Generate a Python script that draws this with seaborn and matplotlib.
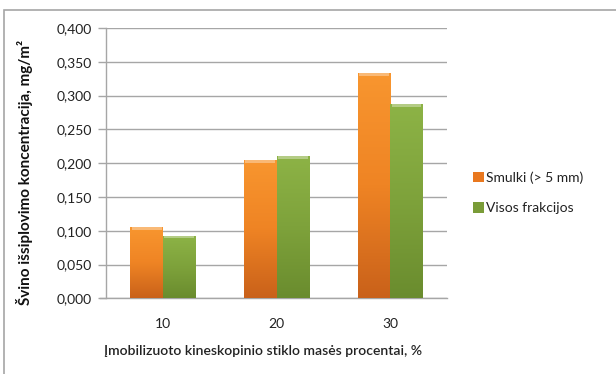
import matplotlib
matplotlib.use("Agg")
import matplotlib.pyplot as plt
import numpy as np
import pandas as pd
import seaborn as sns
from matplotlib.colors import LinearSegmentedColormap
from matplotlib.patches import Rectangle

# Chart data
percentages = ["10", "20", "30"]
series_names = ["Smulki (> 5 mm)", "Visos frakcijos"]
smulki = [0.105, 0.205, 0.333]
visos = [0.093, 0.211, 0.287]
y_ticks = [0.0, 0.05, 0.10, 0.15, 0.20, 0.25, 0.30, 0.35, 0.40]

df = pd.DataFrame({
    "proc": percentages * 2,
    "serija": [series_names[0]] * 3 + [series_names[1]] * 3,
    "verte": smulki + visos,
})

sns.set_theme(style="white")
plt.rcParams["font.family"] = ["Lato", "DejaVu Sans"]

fig = plt.figure(figsize=(6.16, 3.74), dpi=100)
ax = fig.add_axes([0.172, 0.202, 0.554, 0.723])

colors = {series_names[0]: "#E9781F", series_names[1]: "#7A9C38"}
sns.barplot(data=df, x="proc", y="verte", hue="serija", order=percentages,
            hue_order=series_names, palette=colors, width=0.57, gap=0,
            saturation=1, ax=ax, legend=True, zorder=3, linewidth=0)

# vertical gradient fills over each bar
grads = {
    series_names[0]: ["#F8962F", "#EF8424", "#C9611A"],
    series_names[1]: ["#8DB346", "#7EA23B", "#6A8C2E"],
}
for container, name in zip(ax.containers, series_names):
    cmap = LinearSegmentedColormap.from_list(name, grads[name][::-1])
    for bar in container:
        x0, y0 = bar.get_x(), bar.get_y()
        w, h = bar.get_width(), bar.get_height()
        grad = np.linspace(0, 1, 256).reshape(-1, 1)
        im = ax.imshow(grad, extent=[x0, x0 + w, y0, y0 + h], origin="lower",
                       cmap=cmap, aspect="auto", zorder=3.5)
        im.set_clip_path(bar)
        # thin bevel highlight at the top edge
        ax.add_patch(Rectangle((x0 + w * 0.04, y0 + h - 0.004), w * 0.92, 0.004,
                               facecolor="white", alpha=0.35, linewidth=0, zorder=4))

ax.set_xlim(-0.5, 2.5)
ax.set_ylim(0, 0.4)
ax.set_yticks(y_ticks)
ax.set_yticklabels([f"{v:.3f}".replace(".", ",") for v in y_ticks])
ax.yaxis.grid(True, color="#A6A6A6", linewidth=1.0, zorder=0)
ax.set_axisbelow(True)

for side in ["top", "right"]:
    ax.spines[side].set_visible(False)
for side in ["left", "bottom"]:
    ax.spines[side].set_color("#A6A6A6")
    ax.spines[side].set_linewidth(1.0)
ax.spines["bottom"].set_bounds(-0.553, 2.5)

ax.tick_params(axis="y", which="major", left=True, length=6, width=1.0,
               color="#A6A6A6", pad=4, labelsize=10, labelcolor="#222222")
ax.tick_params(axis="x", bottom=False, pad=8, labelsize=10, labelcolor="#222222")

ax.set_xlabel("Įmobilizuoto kineskopinio stiklo masės procentai, %",
              fontsize=10.1, color="#222222", fontweight="semibold", va="center")
ax.xaxis.set_label_coords(0.46, -0.194)
ax.set_ylabel("Švino išsiplovimo koncentracija, mg/m²", fontsize=11,
              fontweight="bold", color="#111111")
ax.yaxis.set_label_coords(-0.214, 0.465)

leg = ax.legend(loc="center left", bbox_to_anchor=(1.06, 0.39), frameon=False,
                fontsize=10, handlelength=0.75, handleheight=0.75,
                handletextpad=0.2, labelspacing=1.3, borderaxespad=0)
for t in leg.get_texts():
    t.set_color("#222222")

# outer chart frame
fig.patches.append(Rectangle((4 / 616, -0.1), 1.2, 1 - 10 / 374 + 0.1,
                             transform=fig.transFigure, fill=False,
                             edgecolor="#A6A6A6", linewidth=1.2))

fig.savefig("out.png", dpi=100)
